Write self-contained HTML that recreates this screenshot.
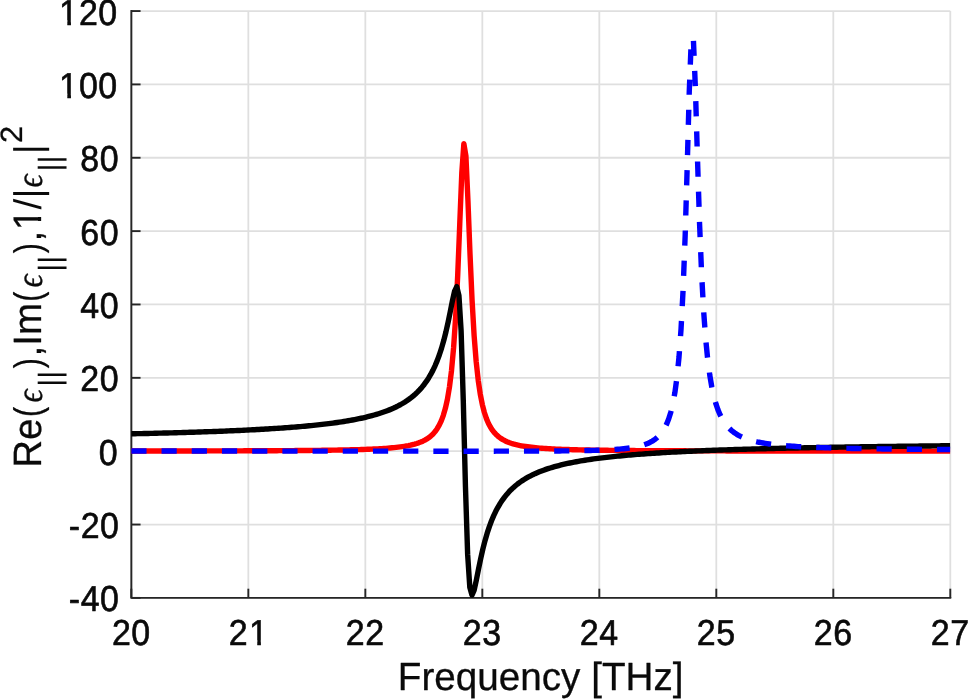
<!DOCTYPE html>
<html lang="en">
<head>
<meta charset="utf-8">
<title>Dielectric function plot</title>
<style>
html,body{margin:0;padding:0;background:#fff;}
body{width:969px;height:699px;overflow:hidden;}
svg{display:block;}
text{font-family:"Liberation Sans",Arial,Helvetica,sans-serif;fill:#0a0a0a;stroke:#0a0a0a;stroke-width:0.6px;stroke-linejoin:round;text-rendering:geometricPrecision;}
.tick{font-size:35px;}
.lab{font-size:38.5px;stroke-width:0.3px;}
.sub{font-size:30.8px;}
.ns{stroke:none;}
.eps{font-family:"Liberation Serif","DejaVu Serif",serif;font-style:italic;}
</style>
</head>
<body>
<svg width="969" height="699" viewBox="0 0 969 699">
<rect x="0" y="0" width="969" height="699" fill="#ffffff"/>

<g stroke="#dfdfdf" stroke-width="1.8" fill="none">
<line x1="131.35" y1="11.05" x2="131.35" y2="597.90"/>
<line x1="248.34" y1="11.05" x2="248.34" y2="597.90"/>
<line x1="365.34" y1="11.05" x2="365.34" y2="597.90"/>
<line x1="482.33" y1="11.05" x2="482.33" y2="597.90"/>
<line x1="599.32" y1="11.05" x2="599.32" y2="597.90"/>
<line x1="716.31" y1="11.05" x2="716.31" y2="597.90"/>
<line x1="833.31" y1="11.05" x2="833.31" y2="597.90"/>
<line x1="950.30" y1="11.05" x2="950.30" y2="597.90"/>
<line x1="131.35" y1="597.90" x2="950.30" y2="597.90"/>
<line x1="131.35" y1="524.54" x2="950.30" y2="524.54"/>
<line x1="131.35" y1="451.19" x2="950.30" y2="451.19"/>
<line x1="131.35" y1="377.83" x2="950.30" y2="377.83"/>
<line x1="131.35" y1="304.47" x2="950.30" y2="304.47"/>
<line x1="131.35" y1="231.12" x2="950.30" y2="231.12"/>
<line x1="131.35" y1="157.76" x2="950.30" y2="157.76"/>
<line x1="131.35" y1="84.41" x2="950.30" y2="84.41"/>
<line x1="131.35" y1="11.05" x2="950.30" y2="11.05"/>
</g>
<g stroke="#262626" stroke-width="1.9" fill="none" stroke-linecap="square">
<path d="M131.35,11.05 L131.35,597.90 L950.30,597.90"/>
</g>
<g stroke="#262626" stroke-width="1.9" fill="none">
<line x1="131.35" y1="597.90" x2="131.35" y2="588.70"/>
<line x1="248.34" y1="597.90" x2="248.34" y2="588.70"/>
<line x1="365.34" y1="597.90" x2="365.34" y2="588.70"/>
<line x1="482.33" y1="597.90" x2="482.33" y2="588.70"/>
<line x1="599.32" y1="597.90" x2="599.32" y2="588.70"/>
<line x1="716.31" y1="597.90" x2="716.31" y2="588.70"/>
<line x1="833.31" y1="597.90" x2="833.31" y2="588.70"/>
<line x1="950.30" y1="597.90" x2="950.30" y2="588.70"/>
<line x1="131.35" y1="597.90" x2="140.55" y2="597.90"/>
<line x1="131.35" y1="524.54" x2="140.55" y2="524.54"/>
<line x1="131.35" y1="451.19" x2="140.55" y2="451.19"/>
<line x1="131.35" y1="377.83" x2="140.55" y2="377.83"/>
<line x1="131.35" y1="304.47" x2="140.55" y2="304.47"/>
<line x1="131.35" y1="231.12" x2="140.55" y2="231.12"/>
<line x1="131.35" y1="157.76" x2="140.55" y2="157.76"/>
<line x1="131.35" y1="84.41" x2="140.55" y2="84.41"/>
<line x1="131.35" y1="11.05" x2="140.55" y2="11.05"/>
</g>
<defs><clipPath id="c"><rect x="130.90" y="8.05" width="819.45" height="592.85"/></clipPath></defs>
<g clip-path="url(#c)" fill="none" stroke-linejoin="round">
<path d="M131.35,451.03 L133.40,451.03 L135.46,451.02 L137.51,451.02 L139.56,451.02 L141.61,451.02 L143.67,451.01 L145.72,451.01 L147.77,451.01 L149.82,451.01 L151.88,451.01 L153.93,451.00 L155.98,451.00 L158.03,451.00 L160.09,451.00 L162.14,450.99 L164.19,450.99 L166.24,450.99 L168.30,450.98 L170.35,450.98 L172.40,450.98 L174.45,450.98 L176.51,450.97 L178.56,450.97 L180.61,450.97 L182.66,450.96 L184.72,450.96 L186.77,450.96 L188.82,450.95 L190.87,450.95 L192.93,450.95 L194.98,450.94 L197.03,450.94 L199.08,450.93 L201.14,450.93 L203.19,450.93 L205.24,450.92 L207.29,450.92 L209.35,450.91 L211.40,450.91 L213.45,450.91 L215.50,450.90 L217.56,450.90 L219.61,450.89 L221.66,450.89 L223.71,450.88 L225.77,450.88 L227.82,450.87 L229.87,450.86 L231.92,450.86 L233.98,450.85 L236.03,450.85 L238.08,450.84 L240.13,450.83 L242.19,450.83 L244.24,450.82 L246.29,450.81 L248.34,450.81 L250.40,450.80 L252.45,450.79 L254.50,450.78 L256.55,450.78 L258.61,450.77 L260.66,450.76 L262.71,450.75 L264.76,450.74 L266.82,450.73 L268.87,450.72 L270.92,450.71 L272.97,450.70 L275.03,450.69 L277.08,450.68 L279.13,450.67 L281.18,450.66 L283.24,450.65 L285.29,450.63 L287.34,450.62 L289.39,450.61 L291.45,450.59 L293.50,450.58 L295.55,450.56 L297.60,450.55 L299.66,450.53 L301.71,450.52 L303.76,450.50 L305.81,450.48 L307.87,450.46 L309.92,450.44 L311.97,450.42 L314.02,450.40 L316.08,450.38 L318.13,450.36 L320.18,450.33 L322.23,450.31 L324.29,450.28 L326.34,450.25 L328.39,450.23 L330.44,450.20 L332.50,450.17 L334.55,450.13 L336.60,450.10 L338.65,450.06 L340.71,450.03 L342.76,449.99 L344.81,449.94 L346.86,449.90 L348.92,449.85 L350.97,449.81 L353.02,449.75 L355.07,449.70 L357.13,449.64 L359.18,449.58 L361.23,449.52 L363.28,449.45 L365.34,449.38 L367.39,449.30 L369.44,449.22 L371.49,449.13 L373.55,449.04 L375.60,448.94 L377.65,448.83 L379.70,448.72 L381.76,448.59 L383.81,448.46 L385.86,448.32 L387.91,448.16 L389.97,447.99 L392.02,447.81 L394.07,447.61 L396.12,447.40 L398.18,447.16 L400.23,446.90 L402.28,446.62 L404.33,446.31 L406.39,445.96 L408.44,445.58 L410.49,445.15 L412.54,444.67 L414.60,444.14 L416.65,443.53 L418.70,442.84 L420.75,442.06 L422.81,441.17 L424.86,440.14 L426.91,438.94 L428.96,437.54 L431.02,435.89 L433.07,433.93 L435.12,431.58 L437.17,428.72 L439.23,425.21 L441.28,420.85 L443.33,415.35 L445.38,408.29 L447.44,399.08 L449.49,386.86 L451.54,370.36 L453.59,347.79 L455.65,316.82 L457.70,275.33 L459.75,224.06 L461.80,172.76 L463.86,143.77 L465.91,155.92 L467.96,200.76 L470.01,254.02 L472.07,300.20 L474.12,335.54 L476.17,361.45 L478.22,380.33 L480.28,394.22 L482.33,404.60 L484.38,412.51 L486.43,418.63 L488.49,423.44 L490.54,427.29 L492.59,430.41 L494.64,432.96 L496.70,435.08 L498.75,436.86 L500.80,438.36 L502.85,439.64 L504.91,440.74 L506.96,441.69 L509.01,442.52 L511.06,443.24 L513.12,443.88 L515.17,444.45 L517.22,444.95 L519.27,445.40 L521.33,445.80 L523.38,446.16 L525.43,446.49 L527.48,446.78 L529.54,447.05 L531.59,447.30 L533.64,447.52 L535.69,447.73 L537.75,447.92 L539.80,448.09 L541.85,448.25 L543.90,448.40 L545.96,448.54 L548.01,448.66 L550.06,448.78 L552.11,448.89 L554.17,449.00 L556.22,449.09 L558.27,449.18 L560.32,449.27 L562.38,449.35 L564.43,449.42 L566.48,449.49 L568.53,449.56 L570.59,449.62 L572.64,449.68 L574.69,449.73 L576.74,449.78 L578.80,449.83 L580.85,449.88 L582.90,449.93 L584.95,449.97 L587.01,450.01 L589.06,450.05 L591.11,450.08 L593.16,450.12 L595.22,450.15 L597.27,450.18 L599.32,450.21 L601.37,450.24 L603.43,450.27 L605.48,450.30 L607.53,450.32 L609.58,450.35 L611.64,450.37 L613.69,450.39 L615.74,450.41 L617.79,450.43 L619.85,450.45 L621.90,450.47 L623.95,450.49 L626.00,450.51 L628.06,450.52 L630.11,450.54 L632.16,450.56 L634.21,450.57 L636.27,450.59 L638.32,450.60 L640.37,450.61 L642.42,450.63 L644.48,450.64 L646.53,450.65 L648.58,450.66 L650.63,450.68 L652.69,450.69 L654.74,450.70 L656.79,450.71 L658.84,450.72 L660.90,450.73 L662.95,450.74 L665.00,450.75 L667.05,450.75 L669.11,450.76 L671.16,450.77 L673.21,450.78 L675.26,450.79 L677.32,450.80 L679.37,450.80 L681.42,450.81 L683.47,450.82 L685.53,450.82 L687.58,450.83 L689.63,450.84 L691.68,450.84 L693.74,450.85 L695.79,450.86 L697.84,450.86 L699.89,450.87 L701.95,450.87 L704.00,450.88 L706.05,450.88 L708.10,450.89 L710.16,450.89 L712.21,450.90 L714.26,450.90 L716.31,450.91 L718.37,450.91 L720.42,450.92 L722.47,450.92 L724.52,450.92 L726.58,450.93 L728.63,450.93 L730.68,450.94 L732.73,450.94 L734.79,450.94 L736.84,450.95 L738.89,450.95 L740.94,450.96 L743.00,450.96 L745.05,450.96 L747.10,450.97 L749.15,450.97 L751.21,450.97 L753.26,450.97 L755.31,450.98 L757.36,450.98 L759.42,450.98 L761.47,450.99 L763.52,450.99 L765.57,450.99 L767.63,450.99 L769.68,451.00 L771.73,451.00 L773.78,451.00 L775.84,451.00 L777.89,451.01 L779.94,451.01 L781.99,451.01 L784.05,451.01 L786.10,451.02 L788.15,451.02 L790.20,451.02 L792.26,451.02 L794.31,451.02 L796.36,451.03 L798.41,451.03 L800.47,451.03 L802.52,451.03 L804.57,451.03 L806.62,451.04 L808.68,451.04 L810.73,451.04 L812.78,451.04 L814.83,451.04 L816.89,451.04 L818.94,451.05 L820.99,451.05 L823.04,451.05 L825.10,451.05 L827.15,451.05 L829.20,451.05 L831.25,451.06 L833.31,451.06 L835.36,451.06 L837.41,451.06 L839.46,451.06 L841.52,451.06 L843.57,451.06 L845.62,451.07 L847.67,451.07 L849.73,451.07 L851.78,451.07 L853.83,451.07 L855.88,451.07 L857.94,451.07 L859.99,451.07 L862.04,451.08 L864.09,451.08 L866.15,451.08 L868.20,451.08 L870.25,451.08 L872.30,451.08 L874.36,451.08 L876.41,451.08 L878.46,451.08 L880.51,451.09 L882.57,451.09 L884.62,451.09 L886.67,451.09 L888.72,451.09 L890.78,451.09 L892.83,451.09 L894.88,451.09 L896.93,451.09 L898.99,451.09 L901.04,451.09 L903.09,451.10 L905.14,451.10 L907.20,451.10 L909.25,451.10 L911.30,451.10 L913.35,451.10 L915.41,451.10 L917.46,451.10 L919.51,451.10 L921.56,451.10 L923.62,451.10 L925.67,451.10 L927.72,451.11 L929.77,451.11 L931.83,451.11 L933.88,451.11 L935.93,451.11 L937.98,451.11 L940.04,451.11 L942.09,451.11 L944.14,451.11 L946.19,451.11 L948.25,451.11 L950.30,451.11" stroke="#ff0000" stroke-width="5.4"/>
<path d="M131.35,433.80 L133.03,433.77 L135.20,433.72 L137.38,433.67 L139.55,433.63 L141.72,433.58 L143.89,433.53 L146.07,433.48 L148.24,433.43 L150.41,433.38 L152.58,433.33 L154.76,433.27 L156.93,433.22 L159.10,433.17 L161.28,433.11 L163.45,433.06 L165.62,433.00 L167.79,432.94 L169.97,432.88 L172.14,432.83 L174.31,432.77 L176.48,432.71 L178.66,432.64 L180.83,432.58 L183.00,432.52 L185.18,432.45 L187.35,432.39 L189.52,432.32 L191.69,432.25 L193.87,432.18 L196.04,432.11 L198.21,432.04 L200.38,431.97 L202.56,431.90 L204.73,431.82 L206.90,431.75 L209.08,431.67 L211.25,431.59 L213.42,431.51 L215.59,431.43 L217.77,431.35 L219.94,431.26 L222.11,431.18 L224.28,431.09 L226.46,431.00 L228.63,430.91 L230.80,430.82 L232.98,430.73 L235.15,430.63 L237.32,430.53 L239.49,430.43 L241.67,430.33 L243.84,430.23 L246.01,430.12 L248.18,430.02 L250.36,429.91 L252.53,429.79 L254.70,429.68 L256.87,429.56 L259.05,429.44 L261.22,429.32 L263.39,429.20 L265.57,429.07 L267.74,428.94 L269.91,428.81 L272.08,428.67 L274.26,428.54 L276.43,428.39 L278.60,428.25 L280.77,428.10 L282.95,427.95 L285.12,427.79 L287.29,427.63 L289.47,427.47 L291.64,427.30 L293.81,427.13 L295.98,426.95 L298.16,426.77 L300.33,426.59 L302.50,426.40 L304.67,426.20 L306.85,426.00 L309.02,425.79 L311.19,425.58 L313.37,425.36 L315.54,425.14 L317.71,424.90 L319.88,424.67 L322.06,424.42 L324.23,424.17 L326.40,423.91 L328.57,423.64 L330.75,423.36 L332.92,423.07 L335.09,422.77 L337.27,422.47 L339.44,422.15 L341.61,421.82 L343.78,421.48 L345.96,421.13 L348.13,420.76 L350.30,420.38 L352.47,419.99 L354.65,419.58 L356.82,419.15 L358.99,418.71 L361.17,418.25 L363.34,417.77 L365.51,417.26 L367.68,416.74 L369.86,416.19 L372.03,415.62 L374.20,415.02 L376.37,414.39 L378.55,413.73 L380.72,413.04 L382.89,412.31 L385.07,411.54 L387.24,410.73 L389.41,409.87 L391.58,408.96 L393.76,408.00 L395.93,406.98 L398.10,405.90 L400.27,404.75 L402.45,403.51 L404.62,402.20 L406.79,400.79 L408.97,399.27 L411.14,397.64 L413.31,395.87 L415.48,393.96 L417.66,391.89 L419.83,389.63 L422.00,387.16 L424.17,384.45 L426.35,381.46 L428.52,378.15 L430.69,374.48 L432.87,370.38 L435.04,365.79 L437.21,360.62 L439.38,354.76 L441.56,348.12 L443.73,340.56 L445.90,331.99 L448.07,322.35 L450.25,311.77 L452.42,300.82 L454.59,291.13 L456.77,286.65 L458.94,295.59 L461.11,330.83 L463.28,400.34 L465.46,486.70 L467.63,554.19 L469.80,587.37 L471.97,595.10 L474.15,590.09 L476.32,580.24 L478.49,569.28 L480.67,558.75 L482.84,549.18 L485.01,540.67 L487.18,533.18 L489.36,526.59 L491.53,520.78 L493.70,515.65 L495.87,511.09 L498.05,507.02 L500.22,503.37 L502.39,500.09 L504.57,497.12 L506.74,494.42 L508.91,491.97 L511.08,489.72 L513.26,487.66 L515.43,485.76 L517.60,484.00 L519.77,482.38 L521.95,480.87 L524.12,479.46 L526.29,478.15 L528.47,476.92 L530.64,475.78 L532.81,474.70 L534.98,473.68 L537.16,472.72 L539.33,471.82 L541.50,470.97 L543.67,470.16 L545.85,469.39 L548.02,468.67 L550.19,467.97 L552.37,467.32 L554.54,466.69 L556.71,466.09 L558.88,465.52 L561.06,464.97 L563.23,464.45 L565.40,463.95 L567.57,463.47 L569.75,463.01 L571.92,462.57 L574.09,462.14 L576.27,461.73 L578.44,461.34 L580.61,460.96 L582.78,460.60 L584.96,460.24 L587.13,459.90 L589.30,459.58 L591.47,459.26 L593.65,458.95 L595.82,458.66 L597.99,458.37 L600.17,458.09 L602.34,457.82 L604.51,457.56 L606.68,457.31 L608.86,457.06 L611.03,456.83 L613.20,456.60 L615.37,456.37 L617.55,456.15 L619.72,455.94 L621.89,455.73 L624.07,455.53 L626.24,455.34 L628.41,455.15 L630.58,454.96 L632.76,454.78 L634.93,454.61 L637.10,454.43 L639.27,454.27 L641.45,454.10 L643.62,453.94 L645.79,453.79 L647.97,453.64 L650.14,453.49 L652.31,453.34 L654.48,453.20 L656.66,453.06 L658.83,452.93 L661.00,452.79 L663.17,452.66 L665.35,452.54 L667.52,452.41 L669.69,452.29 L671.87,452.17 L674.04,452.06 L676.21,451.94 L678.38,451.83 L680.56,451.72 L682.73,451.61 L684.90,451.51 L687.07,451.41 L689.25,451.31 L691.42,451.21 L693.59,451.11 L695.77,451.01 L697.94,450.92 L700.11,450.83 L702.28,450.74 L704.46,450.65 L706.63,450.56 L708.80,450.48 L710.97,450.39 L713.15,450.31 L715.32,450.23 L717.49,450.15 L719.67,450.07 L721.84,449.99 L724.01,449.92 L726.18,449.84 L728.36,449.77 L730.53,449.70 L732.70,449.63 L734.87,449.56 L737.05,449.49 L739.22,449.42 L741.39,449.35 L743.57,449.29 L745.74,449.22 L747.91,449.16 L750.08,449.10 L752.26,449.03 L754.43,448.97 L756.60,448.91 L758.77,448.86 L760.95,448.80 L763.12,448.74 L765.29,448.68 L767.47,448.63 L769.64,448.57 L771.81,448.52 L773.98,448.47 L776.16,448.41 L778.33,448.36 L780.50,448.31 L782.67,448.26 L784.85,448.21 L787.02,448.16 L789.19,448.11 L791.37,448.07 L793.54,448.02 L795.71,447.97 L797.88,447.93 L800.06,447.88 L802.23,447.84 L804.40,447.79 L806.57,447.75 L808.75,447.71 L810.92,447.66 L813.09,447.62 L815.27,447.58 L817.44,447.54 L819.61,447.50 L821.78,447.46 L823.96,447.42 L826.13,447.38 L828.30,447.34 L830.47,447.30 L832.65,447.27 L834.82,447.23 L836.99,447.19 L839.17,447.16 L841.34,447.12 L843.51,447.08 L845.68,447.05 L847.86,447.01 L850.03,446.98 L852.20,446.95 L854.37,446.91 L856.55,446.88 L858.72,446.85 L860.89,446.82 L863.07,446.78 L865.24,446.75 L867.41,446.72 L869.58,446.69 L871.76,446.66 L873.93,446.63 L876.10,446.60 L878.27,446.57 L880.45,446.54 L882.62,446.51 L884.79,446.48 L886.97,446.45 L889.14,446.42 L891.31,446.40 L893.48,446.37 L895.66,446.34 L897.83,446.31 L900.00,446.29 L902.17,446.26 L904.35,446.23 L906.52,446.21 L908.69,446.18 L910.87,446.16 L913.04,446.13 L915.21,446.11 L917.38,446.08 L919.56,446.06 L921.73,446.03 L923.90,446.01 L926.07,445.99 L928.25,445.96 L930.42,445.94 L932.59,445.92 L934.77,445.89 L936.94,445.87 L939.11,445.85 L941.28,445.82 L943.46,445.80 L945.63,445.78 L947.80,445.76 L949.97,445.74 L950.30,445.73" stroke="#000000" stroke-width="5.4"/>
<path d="M131.35,451.02 L133.03,451.02 L135.08,451.03 L137.14,451.03 L139.19,451.03 L141.24,451.03 L143.29,451.03 L145.35,451.03 L147.40,451.03 L149.45,451.03 L151.50,451.03 L153.56,451.03 L155.61,451.03 L157.66,451.03 L159.71,451.04 L161.77,451.04 L163.82,451.04 L165.87,451.04 L167.92,451.04 L169.98,451.04 L172.03,451.04 L174.08,451.04 L176.13,451.04 L178.19,451.04 L180.24,451.04 L182.29,451.05 L184.34,451.05 L186.40,451.05 L188.45,451.05 L190.50,451.05 L192.55,451.05 L194.61,451.05 L196.66,451.05 L198.71,451.05 L200.76,451.05 L202.82,451.06 L204.87,451.06 L206.92,451.06 L208.97,451.06 L211.03,451.06 L213.08,451.06 L215.13,451.06 L217.18,451.06 L219.24,451.06 L221.29,451.06 L223.34,451.06 L225.39,451.07 L227.45,451.07 L229.50,451.07 L231.55,451.07 L233.60,451.07 L235.66,451.07 L237.71,451.07 L239.76,451.07 L241.81,451.07 L243.87,451.08 L245.92,451.08 L247.97,451.08 L250.02,451.08 L252.08,451.08 L254.13,451.08 L256.18,451.08 L258.23,451.08 L260.29,451.08 L262.34,451.08 L264.39,451.09 L266.44,451.09 L268.50,451.09 L270.55,451.09 L272.60,451.09 L274.65,451.09 L276.71,451.09 L278.76,451.09 L280.81,451.10 L282.86,451.10 L284.92,451.10 L286.97,451.10 L289.02,451.10 L291.07,451.10 L293.13,451.10 L295.18,451.10 L297.23,451.10 L299.28,451.11 L301.34,451.11 L303.39,451.11 L305.44,451.11 L307.49,451.11 L309.55,451.11 L311.60,451.11 L313.65,451.11 L315.70,451.11 L317.76,451.12 L319.81,451.12 L321.86,451.12 L323.91,451.12 L325.97,451.12 L328.02,451.12 L330.07,451.12 L332.12,451.12 L334.18,451.13 L336.23,451.13 L338.28,451.13 L340.33,451.13 L342.39,451.13 L344.44,451.13 L346.49,451.13 L348.54,451.13 L350.60,451.14 L352.65,451.14 L354.70,451.14 L356.75,451.14 L358.81,451.14 L360.86,451.14 L362.91,451.14 L364.96,451.14 L367.02,451.15 L369.07,451.15 L371.12,451.15 L373.17,451.15 L375.23,451.15 L377.28,451.15 L379.33,451.15 L381.38,451.15 L383.44,451.16 L385.49,451.16 L387.54,451.16 L389.59,451.16 L391.65,451.16 L393.70,451.16 L395.75,451.16 L397.80,451.16 L399.86,451.16 L401.91,451.17 L403.96,451.17 L406.01,451.17 L408.07,451.17 L410.12,451.17 L412.17,451.17 L414.22,451.17 L416.28,451.17 L418.33,451.17 L420.38,451.17 L422.44,451.18 L424.49,451.18 L426.54,451.18 L428.59,451.18 L430.65,451.18 L432.70,451.18 L434.75,451.18 L436.80,451.18 L438.86,451.18 L440.91,451.18 L442.96,451.18 L445.01,451.18 L447.07,451.18 L449.12,451.19 L451.17,451.19 L453.22,451.19 L455.28,451.19 L457.33,451.19 L459.38,451.19 L461.43,451.19 L463.49,451.19 L465.54,451.19 L467.59,451.19 L469.64,451.19 L471.70,451.19 L473.75,451.19 L475.80,451.19 L477.85,451.19 L479.91,451.18 L481.96,451.18 L484.01,451.18 L486.06,451.18 L488.12,451.18 L490.17,451.18 L492.22,451.18 L494.27,451.18 L496.33,451.17 L498.38,451.17 L500.43,451.17 L502.48,451.17 L504.54,451.17 L506.59,451.16 L508.64,451.16 L510.69,451.16 L512.75,451.15 L514.80,451.15 L516.85,451.14 L518.90,451.14 L520.96,451.14 L523.01,451.13 L525.06,451.13 L527.11,451.12 L529.17,451.11 L531.22,451.11 L533.27,451.10 L535.32,451.09 L537.38,451.08 L539.43,451.07 L541.48,451.06 L543.53,451.05 L545.59,451.04 L547.64,451.03 L549.69,451.02 L551.74,451.01 L553.80,450.99 L555.85,450.98 L557.90,450.96 L559.95,450.94 L562.01,450.92 L564.06,450.90 L566.11,450.88 L568.16,450.86 L570.22,450.83 L572.27,450.81 L574.32,450.78 L576.37,450.75 L578.43,450.72 L580.48,450.68 L582.53,450.64 L584.58,450.60 L586.64,450.56 L588.69,450.51 L590.74,450.46 L592.79,450.41 L594.85,450.35 L596.90,450.29 L598.95,450.22 L601.00,450.14 L603.06,450.06 L605.11,449.97 L607.16,449.87 L609.21,449.77 L611.27,449.65 L613.32,449.53 L615.37,449.39 L617.42,449.24 L619.48,449.08 L621.53,448.89 L623.58,448.69 L625.63,448.47 L627.69,448.22 L629.74,447.94 L631.79,447.64 L633.84,447.29 L635.90,446.91 L637.95,446.47 L640.00,445.98 L642.05,445.42 L644.11,444.78 L646.16,444.05 L648.21,443.21 L650.26,442.24 L652.32,441.11 L654.37,439.78 L656.42,438.21 L658.47,436.35 L660.53,434.11 L662.58,431.40 L664.63,428.07 L666.68,423.96 L668.74,418.79 L670.79,412.22 L672.84,403.71 L674.89,392.53 L676.95,377.55 L679.00,357.14 L681.05,328.90 L683.10,289.61 L685.16,235.76 L687.21,166.56 L689.26,91.62 L691.31,38.71 L693.37,38.54 L695.42,88.80 L697.47,158.35 L699.52,222.50 L701.58,273.16 L703.63,311.00 L705.68,338.91 L707.73,359.63 L709.79,375.26 L711.84,387.23 L713.89,396.56 L715.94,403.96 L718.00,409.91 L720.05,414.76 L722.10,418.77 L724.15,422.12 L726.21,424.94 L728.26,427.34 L730.31,429.40 L732.36,431.19 L734.42,432.74 L736.47,434.10 L738.52,435.30 L740.57,436.37 L742.63,437.32 L744.68,438.17 L746.73,438.93 L748.78,439.62 L750.84,440.25 L752.89,440.81 L754.94,441.33 L756.99,441.81 L759.05,442.24 L761.10,442.64 L763.15,443.01 L765.20,443.35 L767.26,443.67 L769.31,443.96 L771.36,444.23 L773.41,444.49 L775.47,444.73 L777.52,444.95 L779.57,445.16 L781.62,445.35 L783.68,445.54 L785.73,445.71 L787.78,445.87 L789.83,446.03 L791.89,446.18 L793.94,446.31 L795.99,446.44 L798.04,446.57 L800.10,446.69 L802.15,446.80 L804.20,446.91 L806.25,447.01 L808.31,447.10 L810.36,447.20 L812.41,447.29 L814.46,447.37 L816.52,447.45 L818.57,447.53 L820.62,447.60 L822.67,447.67 L824.73,447.74 L826.78,447.81 L828.83,447.87 L830.88,447.93 L832.94,447.99 L834.99,448.05 L837.04,448.10 L839.09,448.15 L841.15,448.20 L843.20,448.25 L845.25,448.30 L847.30,448.34 L849.36,448.39 L851.41,448.43 L853.46,448.47 L855.51,448.51 L857.57,448.55 L859.62,448.59 L861.67,448.62 L863.72,448.66 L865.78,448.69 L867.83,448.72 L869.88,448.76 L871.93,448.79 L873.99,448.82 L876.04,448.85 L878.09,448.87 L880.14,448.90 L882.20,448.93 L884.25,448.95 L886.30,448.98 L888.35,449.00 L890.41,449.03 L892.46,449.05 L894.51,449.07 L896.56,449.10 L898.62,449.12 L900.67,449.14 L902.72,449.16 L904.77,449.18 L906.83,449.20 L908.88,449.22 L910.93,449.24 L912.98,449.26 L915.04,449.27 L917.09,449.29 L919.14,449.31 L921.19,449.33 L923.25,449.34 L925.30,449.36 L927.35,449.37 L929.40,449.39 L931.46,449.40 L933.51,449.42 L935.56,449.43 L937.61,449.45 L939.67,449.46 L941.72,449.47 L943.77,449.49 L945.82,449.50 L947.88,449.51 L949.93,449.53 L950.30,449.53" stroke="#0000ff" stroke-width="5.4" stroke-dasharray="15.2 15"/>
</g>
<defs><clipPath id="k0"><path clip-rule="evenodd" d="M-20,-60 H420 V60 H-20 Z M1.26,-4.31 H8.17 V3 H1.26 Z M11.91,-4.31 H18.55 V3 H11.91 Z"/></clipPath><clipPath id="k1"><path clip-rule="evenodd" d="M-20,-60 H420 V60 H-20 Z M22.36,-4.31 H29.27 V3 H22.36 Z M33.00,-4.31 H39.65 V3 H33.00 Z"/></clipPath><clipPath id="ky"><path clip-rule="evenodd" d="M-20,-60 H420 V60 H-20 Z M236.52,-4.66 H244.05 V3 H236.52 Z M248.09,-4.66 H255.32 V3 H248.09 Z"/></clipPath></defs>
<g>
<text class="tick" transform="translate(111.88,644.50) scale(0.9700,1.0300)" letter-spacing="0.602">20</text>
<text class="tick" transform="translate(228.87,644.50) scale(0.9700,1.0300)" letter-spacing="0.602" dx="0 0.72" clip-path="url(#k1)">21</text>
<text class="tick" transform="translate(345.86,644.50) scale(0.9700,1.0300)" letter-spacing="0.602">22</text>
<text class="tick" transform="translate(462.86,644.50) scale(0.9700,1.0300)" letter-spacing="0.602">23</text>
<text class="tick" transform="translate(579.85,644.50) scale(0.9700,1.0300)" letter-spacing="0.602">24</text>
<text class="tick" transform="translate(696.84,644.50) scale(0.9700,1.0300)" letter-spacing="0.602">25</text>
<text class="tick" transform="translate(813.83,644.50) scale(0.9700,1.0300)" letter-spacing="0.602">26</text>
<text class="tick" transform="translate(930.83,644.50) scale(0.9700,1.0300)" letter-spacing="0.602">27</text>
<text class="tick" transform="translate(59.40,24.55) scale(0.9700,1.0300)" letter-spacing="0.602" dx="-0.31 0.31" clip-path="url(#k0)">120</text>
<text class="tick" transform="translate(59.40,97.91) scale(0.9700,1.0300)" letter-spacing="0.602" dx="-0.31 0.31" clip-path="url(#k0)">100</text>
<text class="tick" transform="translate(80.16,171.26) scale(0.9700,1.0300)" letter-spacing="0.602">80</text>
<text class="tick" transform="translate(80.16,244.62) scale(0.9700,1.0300)" letter-spacing="0.602">60</text>
<text class="tick" transform="translate(80.16,317.97) scale(0.9700,1.0300)" letter-spacing="0.602">40</text>
<text class="tick" transform="translate(80.16,391.33) scale(0.9700,1.0300)" letter-spacing="0.602">20</text>
<text class="tick" transform="translate(98.68,464.69) scale(0.9700,1.0300)" letter-spacing="0.602">0</text>
<text class="tick" transform="translate(68.77,538.04) scale(0.9700,1.0300)" letter-spacing="0.602">-20</text>
<text class="tick" transform="translate(68.77,611.40) scale(0.9700,1.0300)" letter-spacing="0.602">-40</text>
</g>
<text class="lab" transform="translate(397.80,690.30) scale(1.0040,1.02)">Frequency [THz]</text>
<g transform="translate(41.06,465) rotate(-90)"><text class="lab" clip-path="url(#ky)"><tspan x="-2.76" font-size="39.46" textLength="49.21" lengthAdjust="spacingAndGlyphs">Re</tspan><tspan x="48.08" textLength="10.13" lengthAdjust="spacingAndGlyphs">(</tspan><tspan class="eps" x="62.43" dy="0.50" font-size="37.34" textLength="13.03" lengthAdjust="spacingAndGlyphs">ϵ</tspan><tspan class="sub ns" x="78.20" dy="18.10">||</tspan><tspan x="96.79" dy="-18.60" textLength="10.13" lengthAdjust="spacingAndGlyphs">)</tspan><tspan x="108.49">,</tspan><tspan x="119.19" font-size="39.46" textLength="42.77" lengthAdjust="spacingAndGlyphs">Im</tspan><tspan x="163.17" textLength="10.13" lengthAdjust="spacingAndGlyphs">(</tspan><tspan class="eps" x="177.43" dy="0.50" font-size="37.34" textLength="13.03" lengthAdjust="spacingAndGlyphs">ϵ</tspan><tspan class="sub ns" x="193.20" dy="18.10">||</tspan><tspan x="211.79" dy="-18.60" textLength="10.13" lengthAdjust="spacingAndGlyphs">)</tspan><tspan x="223.49">,</tspan><tspan x="234.69" font-size="39.66" textLength="21.41" lengthAdjust="spacingAndGlyphs">1</tspan><tspan class="ns" x="255.60">/</tspan><tspan class="ns" x="266.60">|</tspan><tspan class="eps" x="277.53" dy="0.50" font-size="37.34" textLength="13.03" lengthAdjust="spacingAndGlyphs">ϵ</tspan><tspan class="sub ns" x="293.60" dy="18.10">||</tspan><tspan class="ns" x="310.65" dy="-18.60">|</tspan><tspan class="sub" x="321.90" dy="-19.00">2</tspan></text></g>
</svg>
</body>
</html>
